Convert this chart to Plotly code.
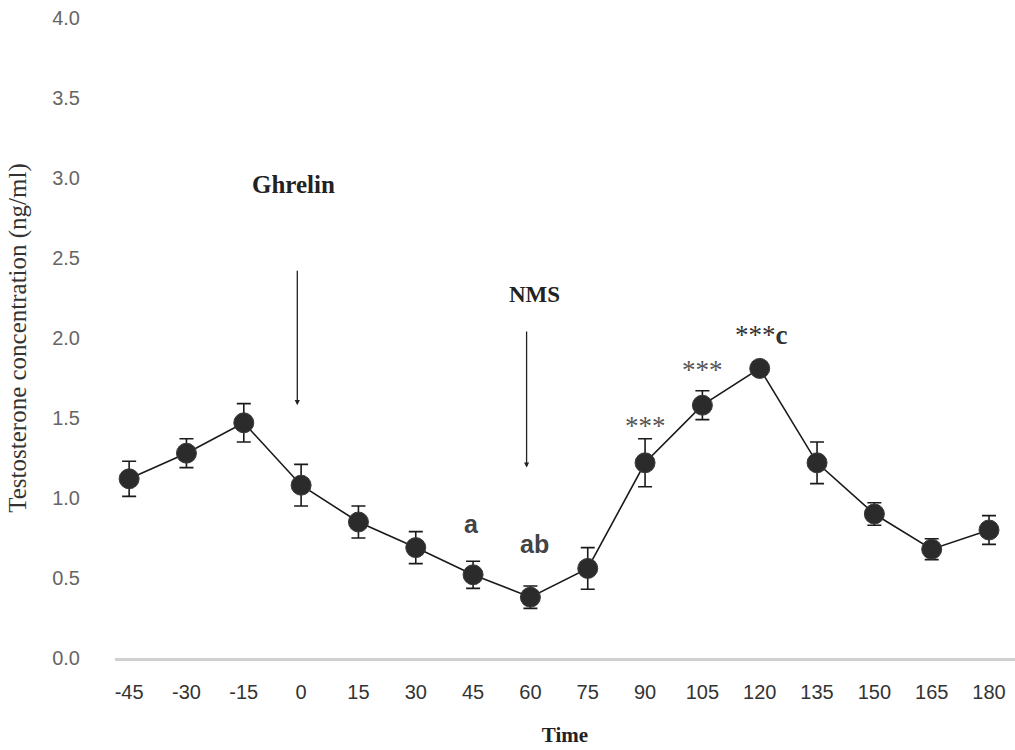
import plotly.graph_objects as go

# Sampling times (min) relative to ghrelin injection
time_min = [-45, -30, -15, 0, 15, 30, 45, 60, 75, 90, 105, 120, 135, 150, 165, 180]
# Mean testosterone concentration (ng/ml) and SEM
testosterone = [1.12, 1.28, 1.47, 1.08, 0.85, 0.69, 0.52, 0.38, 0.56, 1.22, 1.58, 1.81, 1.22, 0.90, 0.68, 0.80]
sem = [0.11, 0.09, 0.12, 0.13, 0.10, 0.10, 0.085, 0.07, 0.13, 0.15, 0.09, 0.03, 0.13, 0.07, 0.065, 0.09]

y_ticks = [0.0, 0.5, 1.0, 1.5, 2.0, 2.5, 3.0, 3.5, 4.0]

fig = go.Figure()
fig.add_trace(go.Scatter(
    x=time_min, y=testosterone,
    mode="lines+markers",
    line=dict(color="#1a1a1a", width=1.6),
    marker=dict(size=20, color="#2b2b2b", line=dict(color="#3a3a3a", width=1)),
    error_y=dict(type="data", array=sem, visible=True, color="#1a1a1a",
                 thickness=1.6, width=7),
    showlegend=False,
))

serif = "Liberation Serif, Times New Roman, serif"
sans = "Liberation Sans, Arial, sans-serif"

annotations = [
    dict(x=-2, y=2.96, text="<b>Ghrelin</b>", font=dict(family=serif, size=25, color="#222")),
    dict(x=61, y=2.27, text="<b>NMS</b>", font=dict(family=serif, size=23, color="#222")),
    dict(x=44.7, y=0.84, text="<b>a</b>", font=dict(family=sans, size=25, color="#444")),
    dict(x=61, y=0.71, text="<b>ab</b>", font=dict(family=sans, size=25, color="#444")),
    dict(x=90, y=1.45, text="***", font=dict(family=serif, size=27, color="#555")),
    dict(x=105, y=1.80, text="***", font=dict(family=serif, size=27, color="#555")),
    dict(x=120.5, y=2.02, text="***<b>c</b>", font=dict(family=serif, size=27, color="#333")),
]
for a in annotations:
    a.update(xref="x", yref="y", showarrow=False)

# Injection arrows
arrows = [
    dict(x=-1, y=1.58, ax=-1, ay=2.43),
    dict(x=59, y=1.19, ax=59, ay=2.05),
]
for a in arrows:
    a.update(xref="x", yref="y", axref="x", ayref="y", text="", showarrow=True,
             arrowhead=2, arrowsize=0.8, arrowwidth=1.3, arrowcolor="#222")
    annotations.append(a)

fig.update_layout(
    width=1015, height=750,
    margin=dict(l=115, r=0, t=18, b=92),
    plot_bgcolor="white", paper_bgcolor="white",
    annotations=annotations,
    xaxis=dict(
        range=[-48.7, 186.8],
        tickmode="array", tickvals=time_min, ticktext=[str(t) for t in time_min],
        showgrid=False, zeroline=False,
        showline=True, linecolor="#d0d0d0", linewidth=3,
        ticks="", ticklabelstandoff=14,
        tickfont=dict(family=sans, size=20, color="#333"),
        title=dict(text="<b>Time</b>", font=dict(family=serif, size=21, color="#222"), standoff=26),
    ),
    yaxis=dict(
        range=[0, 4.0],
        tickmode="array", tickvals=y_ticks, ticktext=[f"{v:.1f}" for v in y_ticks],
        showgrid=False, zeroline=False, showline=False,
        ticks="", ticklabelstandoff=34,
        tickfont=dict(family=sans, size=20, color="#666"),
        title=dict(text="Testosterone concentration (ng/ml)",
                   font=dict(family=serif, size=25, color="#333"), standoff=18),
    ),
)

fig.write_html("out.html")
